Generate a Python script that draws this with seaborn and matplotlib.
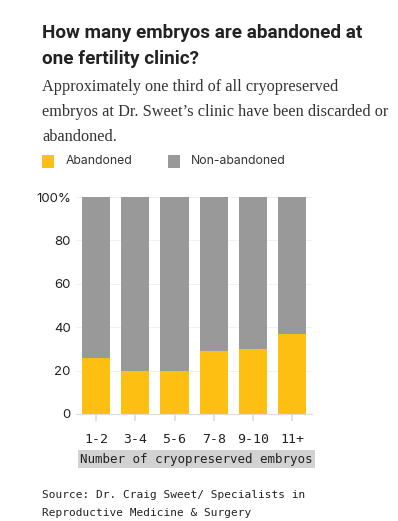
import matplotlib
matplotlib.use("Agg")
import matplotlib.pyplot as plt
import seaborn as sns
import pandas as pd
from matplotlib.patches import Rectangle

categories = ["1-2", "3-4", "5-6", "7-8", "9-10", "11+"]
abandoned = [26, 20, 20, 29, 30, 37]
non_abandoned = [74, 80, 80, 71, 70, 63]
y_ticks = [0, 20, 40, 60, 80, 100]
y_tick_labels = ["0", "20", "40", "60", "80", "100%"]

YELLOW = "#FDBF11"
GRAY = "#999999"

df = pd.DataFrame({
    "cat": categories,
    "abandoned": abandoned,
    "total": [a + n for a, n in zip(abandoned, non_abandoned)],
})

sns.set_theme(style="white")
fig = plt.figure(figsize=(3.98, 5.21), dpi=100)
ax = fig.add_axes([76.4 / 398, 1 - 414 / 521, 235.5 / 398, 217 / 521])

sns.barplot(data=df, x="cat", y="total", color=GRAY, width=0.72, saturation=1,
            ax=ax, order=categories, linewidth=0)
sns.barplot(data=df, x="cat", y="abandoned", color=YELLOW, width=0.72, saturation=1,
            ax=ax, order=categories, linewidth=0)

ax.set_ylim(0, 100)
ax.set_xlim(-0.5, 5.5)
ax.set_yticks(y_ticks)
ax.set_yticklabels(y_tick_labels, fontsize=9.5, family="Inter", color="#222222")
ax.set_xticks(range(len(categories)))
ax.set_xticklabels(categories, fontsize=9.5, family="DejaVu Sans Mono", color="#222222")
ax.yaxis.grid(True, color="#eeeeee", linewidth=0.6)
ax.set_axisbelow(True)
for s in ["top", "right", "left"]:
    ax.spines[s].set_visible(False)
ax.spines["bottom"].set_color("#dddddd")
ax.spines["bottom"].set_linewidth(0.8)
ax.tick_params(axis="y", length=0, pad=4)
ax.tick_params(axis="x", length=5, color="#dddddd", pad=9, bottom=True)
ax.set_xlabel("")
ax.set_ylabel("")

# x axis title with grey background
fig.text(196 / 398, 1 - 459 / 521, "Number of cryopreserved embryos",
         ha="center", va="center", fontsize=9.0, family="DejaVu Sans Mono", color="#222222",
         bbox=dict(boxstyle="square,pad=0.18", facecolor="#d2d2d2", edgecolor="none"))

# title
fig.text(42 / 398, 1 - 46 / 521, "How many embryos are abandoned at\none fertility clinic?",
         ha="left", va="center", fontsize=13.6, fontweight="bold", family="Roboto",
         color="#222222", linespacing=1.52)
# subtitle
fig.text(42 / 398, 1 - 112 / 521,
         "Approximately one third of all cryopreserved\nembryos at Dr. Sweet\u2019s clinic have been discarded or\nabandoned.",
         ha="left", va="center", fontsize=11.7, family="Liberation Serif", color="#333333",
         linespacing=1.72)

# legend
fig.patches.append(Rectangle((42 / 398, 1 - 168 / 521), 12 / 398, 13 / 521,
                             transform=fig.transFigure, facecolor=YELLOW, edgecolor="none"))
fig.text(66 / 398, 1 - 161 / 521, "Abandoned", ha="left", va="center", fontsize=8.8,
         family="Inter", color="#333333")
fig.patches.append(Rectangle((168 / 398, 1 - 168 / 521), 12 / 398, 13 / 521,
                             transform=fig.transFigure, facecolor=GRAY, edgecolor="none"))
fig.text(191 / 398, 1 - 161 / 521, "Non-abandoned", ha="left", va="center", fontsize=8.8,
         family="Inter", color="#333333")

# source
fig.text(42 / 398, 1 - 504 / 521, "Source: Dr. Craig Sweet/ Specialists in\nReproductive Medicine & Surgery",
         ha="left", va="center", fontsize=8.0, family="DejaVu Sans Mono", color="#222222",
         linespacing=2.0)

fig.savefig("out.png", dpi=100)
